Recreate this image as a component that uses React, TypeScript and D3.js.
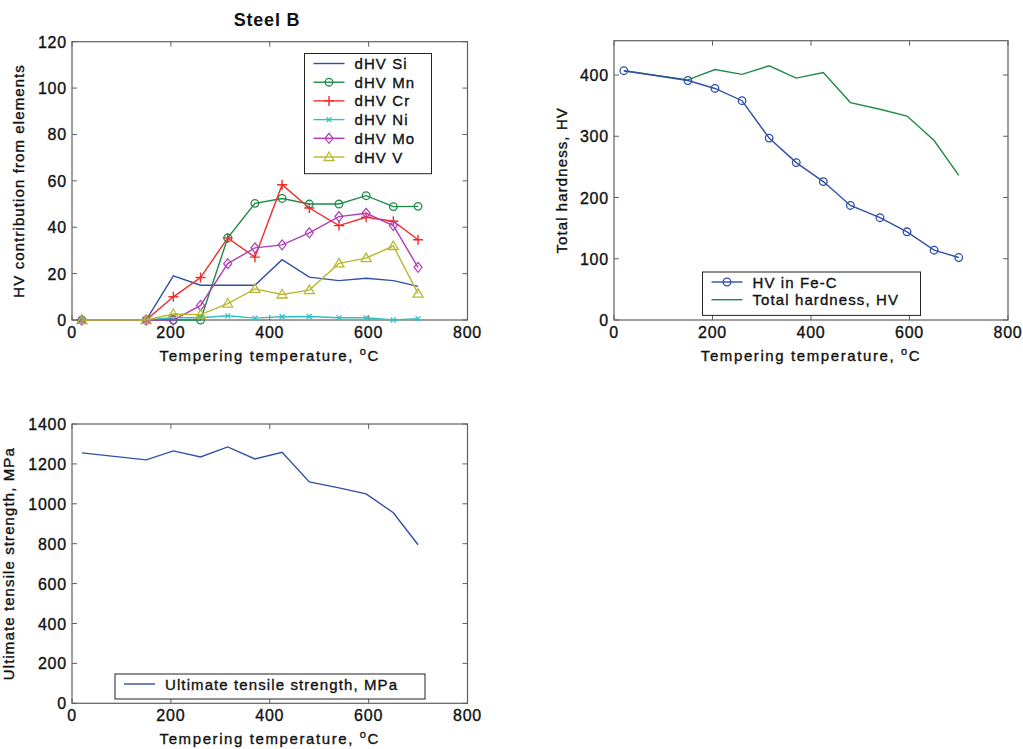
import React from "react";
import * as d3 from "d3";

// tempering temperatures (°C)
const temps = [20, 150, 205, 260, 315, 370, 425, 480, 540, 595, 650, 700];

// HV contribution from elements
const dhvSi = [0, 0, 19, 15, 15, 15, 26, 18.5, 17, 18, 17, 14.5];
const dhvMn = [0, 0, 0, 0, 35.4, 50.3, 52.4, 50, 50, 53.6, 48.9, 49];
const dhvCr = [0, 0, 10, 18.3, 35.4, 27.1, 58.3, 48.3, 40.7, 44.3, 42.6, 34.6];
const dhvNi = [0, 0, 1, 1, 1.8, 0.8, 1.4, 1.5, 1, 1, 0, 0.6];
const dhvMo = [0, 0, 0, 6.3, 24.3, 31.1, 32.4, 37.6, 44.6, 46, 40.7, 22.7];
const dhvV = [0, 0, 2.6, 2.3, 7.1, 13.4, 11, 12.9, 24.4, 26.7, 31.9, 11.4];

// hardness
const hvFeC = [407, 391, 378, 358, 297, 257, 226, 187, 167, 144, 114, 102];
const hvTotal = [407, 392, 409, 401, 415, 395, 404, 355, 344, 333, 293, 236];

// tensile strength
const uts = [1255, 1220, 1265, 1235, 1285, 1225, 1258, 1110, 1080, 1050, 955, 795];

const xTicks = [0, 200, 400, 600, 800];
const elemTicks = [0, 20, 40, 60, 80, 100, 120];
const hvTicks = [0, 100, 200, 300, 400];
const utsTicks = [0, 200, 400, 600, 800, 1000, 1200, 1400];

const blue = "#3050a8";
const green = "#1e8a46";

const elemSeries = [
  { name: "dHV Si", values: dhvSi, color: blue, marker: "none" },
  { name: "dHV Mn", values: dhvMn, color: green, marker: "circle" },
  { name: "dHV Cr", values: dhvCr, color: "#f42a2a", marker: "plus" },
  { name: "dHV Ni", values: dhvNi, color: "#2fc0c4", marker: "x" },
  { name: "dHV Mo", values: dhvMo, color: "#b03cb8", marker: "diamond" },
  { name: "dHV V", values: dhvV, color: "#b8b830", marker: "triangle" },
];

const font = "'Liberation Sans', Arial, sans-serif";
const axisColor = "#606060";
const ink = "#111";
// MATLAB export text is a bit heavier than plain regular weight
const heavy = { stroke: ink, strokeWidth: 0.35 };

const Marker = ({ type, x, y, color }: { type: string; x: number; y: number; color: string }) => {
  if (type === "circle")
    return <circle cx={x} cy={y} r={3.8} fill="none" stroke={color} strokeWidth={1.3} />;
  if (type === "plus")
    return (
      <path d={`M${x - 5},${y}H${x + 5}M${x},${y - 5}V${y + 5}`} stroke={color} strokeWidth={1.4} />
    );
  if (type === "x")
    return (
      <path
        d={`M${x - 2.5},${y - 2.5}L${x + 2.5},${y + 2.5}M${x - 2.5},${y + 2.5}L${x + 2.5},${y - 2.5}`}
        stroke={color}
        strokeWidth={1.2}
      />
    );
  if (type === "diamond")
    return (
      <path
        d={`M${x},${y - 5}L${x + 4},${y}L${x},${y + 5}L${x - 4},${y}Z`}
        fill="none"
        stroke={color}
        strokeWidth={1.2}
      />
    );
  if (type === "triangle")
    return (
      <path
        d={`M${x},${y - 5}L${x + 5},${y + 3.5}L${x - 5},${y + 3.5}Z`}
        fill="none"
        stroke={color}
        strokeWidth={1.3}
      />
    );
  return null;
};

type AxesProps = {
  x: d3.ScaleLinear<number, number>;
  y: d3.ScaleLinear<number, number>;
  yTicks: number[];
  yLabel: string;
  yLabelX: number;
};

const Axes = ({ x, y, yTicks, yLabel, yLabelX }: AxesProps) => {
  const [x0, x1] = x.range();
  const [y0, y1] = y.range();
  const tl = 5;
  return (
    <g fontFamily={font}>
      <rect x={x0} y={y1} width={x1 - x0} height={y0 - y1} fill="none" stroke={axisColor} strokeWidth={1.2} />
      {xTicks.map((t) => (
        <g key={"x" + t}>
          <line x1={x(t)} x2={x(t)} y1={y0} y2={y0 - tl} stroke={axisColor} />
          <line x1={x(t)} x2={x(t)} y1={y1} y2={y1 + tl} stroke={axisColor} />
          <text x={x(t)} y={y0 + 18} textAnchor="middle" fontSize={16} letterSpacing={0.8} fill={ink} {...heavy}>
            {t}
          </text>
        </g>
      ))}
      {yTicks.map((t) => (
        <g key={"y" + t}>
          <line x1={x0} x2={x0 + tl} y1={y(t)} y2={y(t)} stroke={axisColor} />
          <line x1={x1} x2={x1 - tl} y1={y(t)} y2={y(t)} stroke={axisColor} />
          <text x={x0 - 5} y={y(t) + 6} textAnchor="end" fontSize={16} letterSpacing={0.8} fill={ink} {...heavy}>
            {t}
          </text>
        </g>
      ))}
      <text
        x={(x0 + x1) / 2}
        y={y0 + 41}
        textAnchor="middle"
        fontSize={15}
        letterSpacing={1.6}
        fill={ink}
        {...heavy}
      >
        Tempering temperature,{" "}
        <tspan fontSize={11} dy={-6}>
          o
        </tspan>
        <tspan dy={6}>C</tspan>
      </text>
      <text
        transform={`translate(${yLabelX},${(y0 + y1) / 2}) rotate(-90)`}
        textAnchor="middle"
        fontSize={15}
        letterSpacing={1.1}
        fill={ink}
        {...heavy}
      >
        {yLabel}
      </text>
    </g>
  );
};

type LegendItem = { name: string; color: string; marker: string };

const Legend = ({ items, x, y, w, rowH }: { items: LegendItem[]; x: number; y: number; w: number; rowH: number }) => (
  <g fontFamily={font}>
    <rect x={x} y={y} width={w} height={rowH * items.length + 8} fill="white" stroke="#222" strokeWidth={1} />
    {items.map((it, i) => {
      const cy = y + 10 + rowH * i;
      return (
        <g key={it.name}>
          <line x1={x + 9} x2={x + 40} y1={cy} y2={cy} stroke={it.color} strokeWidth={1.4} />
          <Marker type={it.marker} x={x + 24.5} y={cy} color={it.color} />
          <text x={x + 50} y={cy + 5.5} fontSize={15} letterSpacing={1.1} fill={ink} {...heavy}>
            {it.name}
          </text>
        </g>
      );
    })}
  </g>
);

export default function App() {
  const xLeft = d3.scaleLinear().domain([0, 800]).range([72, 467.5]);
  const xRight = d3.scaleLinear().domain([0, 800]).range([614, 1008]);
  const yElem = d3.scaleLinear().domain([0, 120]).range([320, 41.7]);
  const yHV = d3.scaleLinear().domain([0, 456]).range([320, 40.7]);
  const yUTS = d3.scaleLinear().domain([0, 1400]).range([703.3, 424]);

  const lineOf = (xs: d3.ScaleLinear<number, number>, ys: d3.ScaleLinear<number, number>, vals: number[]) =>
    d3
      .line<number>()
      .x((_, i) => xs(temps[i]))
      .y((d) => ys(d))(vals) || "";

  return (
    <svg
      width={1023}
      height={749}
      style={{ position: "absolute", left: 0, top: 0, background: "white" }}
    >
      <rect width={1023} height={749} fill="white" />

      {/* Steel B - element contributions */}
      <text
        x={267}
        y={26}
        textAnchor="middle"
        fontFamily={font}
        fontWeight="bold"
        fontSize={18}
        letterSpacing={0.8}
        fill={ink}
      >
        Steel B
      </text>
      <Axes x={xLeft} y={yElem} yTicks={elemTicks} yLabel="HV contribution from elements" yLabelX={24} />
      {elemSeries.map((s) => (
        <g key={s.name}>
          <path d={lineOf(xLeft, yElem, s.values)} fill="none" stroke={s.color} strokeWidth={1.4} />
          {s.values.map((v, i) => (
            <Marker key={i} type={s.marker} x={xLeft(temps[i])} y={yElem(v)} color={s.color} />
          ))}
        </g>
      ))}
      <Legend items={elemSeries} x={304.5} y={53.5} w={127} rowH={18.7} />

      {/* total hardness */}
      <Axes x={xRight} y={yHV} yTicks={hvTicks} yLabel="Total hardness, HV" yLabelX={567} />
      <path d={lineOf(xRight, yHV, hvTotal)} fill="none" stroke={green} strokeWidth={1.4} />
      <path d={lineOf(xRight, yHV, hvFeC)} fill="none" stroke={blue} strokeWidth={1.4} />
      {hvFeC.map((v, i) => (
        <Marker key={i} type="circle" x={xRight(temps[i])} y={yHV(v)} color={blue} />
      ))}
      <Legend
        items={[
          { name: "HV in Fe-C", color: blue, marker: "circle" },
          { name: "Total hardness, HV", color: green, marker: "none" },
        ]}
        x={702.5}
        y={272}
        w={218}
        rowH={17.7}
      />

      {/* tensile strength */}
      <Axes x={xLeft} y={yUTS} yTicks={utsTicks} yLabel="Ultimate tensile strength, MPa" yLabelX={14} />
      <path d={lineOf(xLeft, yUTS, uts)} fill="none" stroke={blue} strokeWidth={1.4} />
      <Legend
        items={[{ name: "Ultimate tensile strength, MPa", color: blue, marker: "none" }]}
        x={115}
        y={674}
        w={310}
        rowH={17}
      />
    </svg>
  );
}
